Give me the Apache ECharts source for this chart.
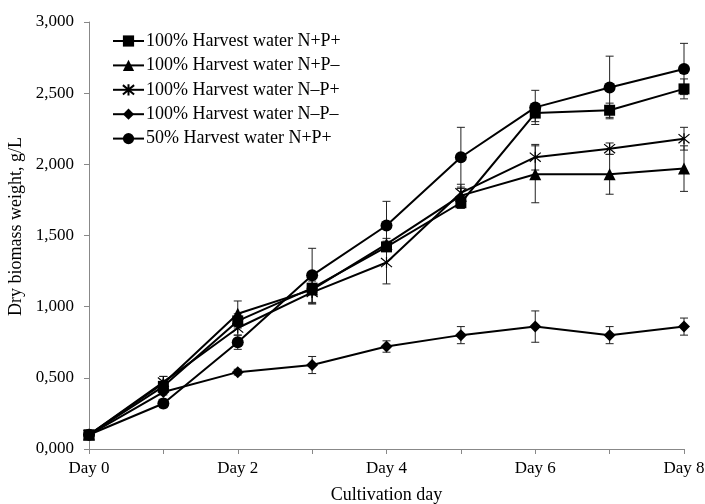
<!DOCTYPE html>
<html>
<head>
<meta charset="utf-8">
<script src="https://cdn.jsdelivr.net/npm/echarts@6/dist/echarts.min.js"></script>
<style>html,body{margin:0;padding:0;background:#fff}#c{width:705px;height:504px}</style>
</head>
<body>
<div id="c"></div>
<script>
var categories = ['Day 0','Day 1','Day 2','Day 3','Day 4','Day 5','Day 6','Day 7','Day 8'];
var seriesNames = ['100% Harvest water N+P+','100% Harvest water N+P\u2013','100% Harvest water N\u2013P+','100% Harvest water N\u2013P\u2013','50% Harvest water N+P+'];
var npPlus      = [0.10, 0.44, 0.90, 1.13, 1.42, 1.73, 2.36, 2.38, 2.53];
var npMinus     = [0.10, 0.46, 0.95, 1.12, 1.44, 1.78, 1.93, 1.93, 1.97];
var nMinusPPlus = [0.10, 0.47, 0.85, 1.10, 1.31, 1.80, 2.05, 2.11, 2.18];
var nMinusPMinus= [0.10, 0.40, 0.54, 0.59, 0.72, 0.80, 0.86, 0.80, 0.86];
var half        = [0.10, 0.32, 0.75, 1.22, 1.57, 2.05, 2.40, 2.54, 2.67];
var errNpPlus      = [0, 0.03, 0.05, 0.03, 0.03, 0.04, 0.06, 0.05, 0.07];
var errNpMinus     = [0, 0.05, 0.09, 0.10, 0.04, 0.05, 0.20, 0.14, 0.16];
var errNMinusPPlus = [0, 0.04, 0.05, 0.08, 0.15, 0.06, 0.09, 0.04, 0.08];
var errNMinusPMinus= [0, 0.02, 0.02, 0.06, 0.04, 0.06, 0.11, 0.06, 0.06];
var errHalf        = [0, 0.03, 0.05, 0.19, 0.17, 0.21, 0.12, 0.22, 0.18];

var values = [npPlus, npMinus, nMinusPPlus, nMinusPMinus, half];
var errors = [errNpPlus, errNpMinus, errNMinusPPlus, errNMinusPMinus, errHalf];
var starPath = 'path://M0,0L10,10M10,0L0,10M5,-1L5,11';
var symbols = ['rect','triangle',starPath,'diamond','circle'];
var sizes = [11, 12, 11, 12, 12];

var chart = echarts.init(document.getElementById('c'));
var series = [];
values.forEach(function(v, i){
  var isStar = i === 2;
  series.push({
    name: seriesNames[i], type: 'line', data: v,
    symbol: symbols[i], symbolSize: sizes[i], showAllSymbol: true,
    lineStyle: {color: '#000', width: 2},
    itemStyle: isStar ? {color: 'rgba(0,0,0,0)', borderColor: '#000', borderWidth: 1.2} : {color: '#000', borderColor: '#000', borderWidth: 0},
    z: 3
  });
});
errors.forEach(function(e, i){
  var d = e.map(function(err, k){ return [k, values[i][k] - err, values[i][k] + err]; }).filter(function(r){ return r[1] !== r[2]; });
  series.push({
    type: 'custom', data: d, z: 2, silent: true,
    renderItem: function(params, api){
      var x = api.value(0);
      var lo = api.coord([x, api.value(1)]);
      var hi = api.coord([x, api.value(2)]);
      var w = 4;
      var st = {stroke: '#222', lineWidth: 1};
      return {type: 'group', children: [
        {type: 'line', shape: {x1: lo[0], y1: lo[1], x2: hi[0], y2: hi[1]}, style: st},
        {type: 'line', shape: {x1: lo[0]-w, y1: lo[1], x2: lo[0]+w, y2: lo[1]}, style: st},
        {type: 'line', shape: {x1: hi[0]-w, y1: hi[1], x2: hi[0]+w, y2: hi[1]}, style: st}
      ]};
    }
  });
});

var font = 'Liberation Serif, Times New Roman, serif';
chart.setOption({
  animation: false,
  textStyle: {fontFamily: font},
  grid: {left: 89, right: 21, top: 22, bottom: 55, containLabel: false, outerBoundsMode: 'none'},
  legend: {
    data: seriesNames, orient: 'vertical', left: 112, top: 32, padding: 0,
    itemWidth: 31, itemHeight: 14, itemGap: 6.4,
    textStyle: {fontFamily: font, fontSize: 18, lineHeight: 18, color: '#000', padding: [0,0,0,-3]}
  },
  xAxis: {
    type: 'category', data: categories, boundaryGap: false,
    name: 'Cultivation day', nameLocation: 'middle', nameGap: 37,
    nameTextStyle: {fontFamily: font, fontSize: 18, color: '#000'},
    axisLine: {lineStyle: {color: '#888', width: 1}},
    axisTick: {show: true, length: 5, interval: 0, lineStyle: {color: '#888'}},
    axisLabel: {interval: 1, fontFamily: font, fontSize: 17, color: '#000', margin: 11}
  },
  yAxis: {
    type: 'value', min: 0, max: 3, interval: 0.5,
    name: 'Dry biomass weight, g/L', nameLocation: 'middle', nameGap: 53,
    nameTextStyle: {fontFamily: font, fontSize: 18, color: '#000', padding: [0,0,0,18]},
    axisLine: {show: true, lineStyle: {color: '#888', width: 1}},
    axisTick: {show: true, length: 5, lineStyle: {color: '#888'}},
    splitLine: {show: false},
    axisLabel: {fontFamily: font, fontSize: 17, color: '#000', margin: 15,
      formatter: function(v){ return v.toFixed(3).replace('.', ','); }}
  },
  series: series
});
</script>
</body>
</html>
